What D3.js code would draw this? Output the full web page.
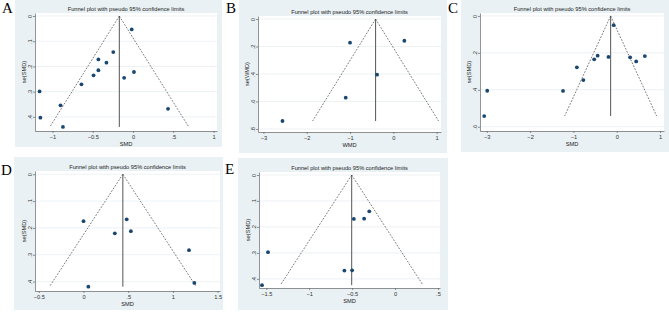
<!DOCTYPE html>
<html>
<head>
<meta charset="utf-8">
<script src="https://cdn.jsdelivr.net/npm/d3@7/dist/d3.min.js"></script>
<style>
  body { margin: 0; background: #fff; }
  svg { display: block; font-family: "Liberation Sans", Arial, sans-serif; }
  .tick text { font-size: 5.7px; fill: #333; }
  .tick line, .domain { stroke: #666; stroke-width: 0.7; }
  .domain { fill: none; }
</style>
</head>
<body>
<div id="chart"></div>
<script>
// panel letters and axis titles
const letters = ["A", "B", "C", "D", "E"];
const xTitles = ["SMD", "WMD", "SMD", "SMD", "SMD"];
const yTitles = ["se(SMD)", "se(WMD)", "se(SMD)", "se(SMD)", "se(SMD)"];

// effect sizes and standard errors
const effectA = [-0.016, -0.245, -0.43, -0.33, -0.43, -0.49, 0.012, -0.11, -0.64, -1.16, -0.90, -1.15, 0.435, -0.87];
const seA     = [0.053, 0.143, 0.172, 0.185, 0.215, 0.235, 0.222, 0.245, 0.271, 0.299, 0.354, 0.403, 0.368, 0.44];
const effectB = [-1.0, 0.254, -0.376, -1.10, -2.56];
const seB     = [0.172, 0.158, 0.405, 0.572, 0.742];
const effectC = [-0.07, -0.44, -0.52, -0.19, -0.92, -0.77, 0.31, 0.45, 0.65, -1.24, -2.99, -3.06];
const seC     = [0.05, 0.215, 0.235, 0.222, 0.278, 0.347, 0.224, 0.246, 0.217, 0.406, 0.405, 0.542];
const effectD = [0.0, 0.483, 0.35, 0.53, 1.18, 1.24, 0.054];
const seD     = [0.175, 0.168, 0.22, 0.212, 0.283, 0.405, 0.419];
const effectE = [-0.30, -0.48, -0.36, -1.48, -0.59, -0.50, -1.55];
const seE     = [0.14, 0.169, 0.168, 0.297, 0.368, 0.367, 0.424];

// pooled estimates (vertical line)
const pooled = [-0.17, -0.41, -0.14, 0.44, -0.505];

// tick values
const xTicksA = [-1, -0.5, 0, 0.5, 1];
const xTicksB = [-3, -2, -1, 0, 1];
const xTicksC = [-3, -2, -1, 0, 1];
const xTicksD = [-0.5, 0, 0.5, 1, 1.5];
const xTicksE = [-1.5, -1, -0.5, 0, 0.5];
const yTicksA = [0, 0.1, 0.2, 0.3, 0.4];
const yTicksB = [0, 0.2, 0.4, 0.6, 0.8];
const yTicksC = [0, 0.2, 0.4, 0.6];

const effects = [effectA, effectB, effectC, effectD, effectE];
const ses = [seA, seB, seC, seD, seE];
const xTicks = [xTicksA, xTicksB, xTicksC, xTicksD, xTicksE];
const yTicks = [yTicksA, yTicksB, yTicksC, yTicksA, yTicksA];

// layout: background box [x0,y0,x1,y1], plot box, axis ranges, letter baseline
const layout = [
  { bg: [15, 0, 222, 147],   plot: [35, 13, 217, 131],   xd: [-1.217, 1.043], yd: [-0.012, 0.456],  ly: 13 },
  { bg: [239, 0, 447, 153],  plot: [258, 16, 441, 132],  xd: [-3.125, 1.10],  yd: [-0.022, 0.822],  ly: 13 },
  { bg: [461, 0, 669, 152],  plot: [480, 13, 664, 131],  xd: [-3.157, 1.092], yd: [-0.016, 0.623],  ly: 13 },
  { bg: [14, 157, 223, 310], plot: [35, 171, 220, 291],  xd: [-0.543, 1.527], yd: [-0.012, 0.435],  ly: 175 },
  { bg: [238, 158, 448, 310], plot: [259, 172, 440, 288], xd: [-1.585, 0.524], yd: [-0.0115, 0.435], ly: 174 }
];

// Stata style labels: drop the leading zero
const fmt = v => d3.format("")(+v.toFixed(2)).replace(/^(-?)0\./, "$1.");

const svg = d3.select("#chart").append("svg")
  .attr("width", 669)
  .attr("height", 313);

layout.forEach((L, i) => {
  const [bx0, by0, bx1, by1] = L.bg;
  const [px0, py0, px1, py1] = L.plot;

  svg.append("rect")
    .attr("x", bx0).attr("y", by0)
    .attr("width", bx1 - bx0).attr("height", by1 - by0)
    .attr("fill", "#e9f1f4");

  svg.append("rect")
    .attr("x", px0).attr("y", py0)
    .attr("width", px1 - px0).attr("height", py1 - py0)
    .attr("fill", "#fff");

  const x = d3.scaleLinear().domain(L.xd).range([px0, px1]);
  const y = d3.scaleLinear().domain(L.yd).range([py0, py1]);

  // gridlines
  svg.append("g")
    .selectAll("line")
    .data(yTicks[i])
    .enter()
    .append("line")
    .attr("x1", px0).attr("x2", px1)
    .attr("y1", d => y(d)).attr("y2", d => y(d))
    .attr("stroke", "#e8eff2")
    .attr("stroke-width", 0.8);

  // axes
  svg.append("g")
    .attr("transform", `translate(0,${py1})`)
    .call(d3.axisBottom(x).tickValues(xTicks[i]).tickFormat(fmt).tickSize(2).tickSizeOuter(0).tickPadding(1.5));
  const gy = svg.append("g")
    .attr("transform", `translate(${px0},0)`)
    .call(d3.axisLeft(y).tickValues(yTicks[i]).tickFormat(fmt).tickSize(2).tickSizeOuter(0));
  gy.selectAll(".tick text")
    .attr("x", null)
    .attr("dy", 0)
    .attr("text-anchor", "middle")
    .attr("transform", "translate(-3.5,0) rotate(-90)");

  // funnel lines
  const est = pooled[i];
  const seMax = d3.max(ses[i]);
  svg.append("line")
    .attr("x1", x(est)).attr("x2", x(est))
    .attr("y1", y(0)).attr("y2", y(seMax))
    .attr("stroke", "#555").attr("stroke-width", 1);
  [-1, 1].forEach(s => {
    svg.append("line")
      .attr("x1", x(est)).attr("y1", y(0))
      .attr("x2", x(est + s * 1.96 * seMax)).attr("y2", y(seMax))
      .attr("stroke", "#444").attr("stroke-width", 0.7)
      .attr("stroke-dasharray", "1.8,1.4");
  });

  // points
  svg.append("g")
    .selectAll("circle")
    .data(effects[i].map((e, k) => ({ e: e, se: ses[i][k] })))
    .enter()
    .append("circle")
    .attr("cx", d => x(d.e))
    .attr("cy", d => y(d.se))
    .attr("r", 1.9)
    .attr("fill", "#1a476f");

  // titles
  svg.append("text")
    .attr("x", (px0 + px1) / 2).attr("y", py0 - 2.5)
    .attr("text-anchor", "middle")
    .attr("font-size", 5.7).attr("fill", "#222")
    .text("Funnel plot with pseudo 95% confidence limits");
  svg.append("text")
    .attr("x", (px0 + px1) / 2).attr("y", py1 + 15)
    .attr("text-anchor", "middle")
    .attr("font-size", 5.7).attr("fill", "#222")
    .text(xTitles[i]);
  svg.append("text")
    .attr("transform", `translate(${px0 - 9},${(py0 + py1) / 2})rotate(-90)`)
    .attr("text-anchor", "middle")
    .attr("font-size", 5.7).attr("fill", "#222")
    .text(yTitles[i]);

  // panel letter
  svg.append("text")
    .attr("x", bx0 - 13).attr("y", L.ly)
    .attr("font-family", "'Liberation Serif', 'Times New Roman', serif")
    .attr("font-size", 15).attr("fill", "#000")
    .text(letters[i]);
});
</script>
</body>
</html>
